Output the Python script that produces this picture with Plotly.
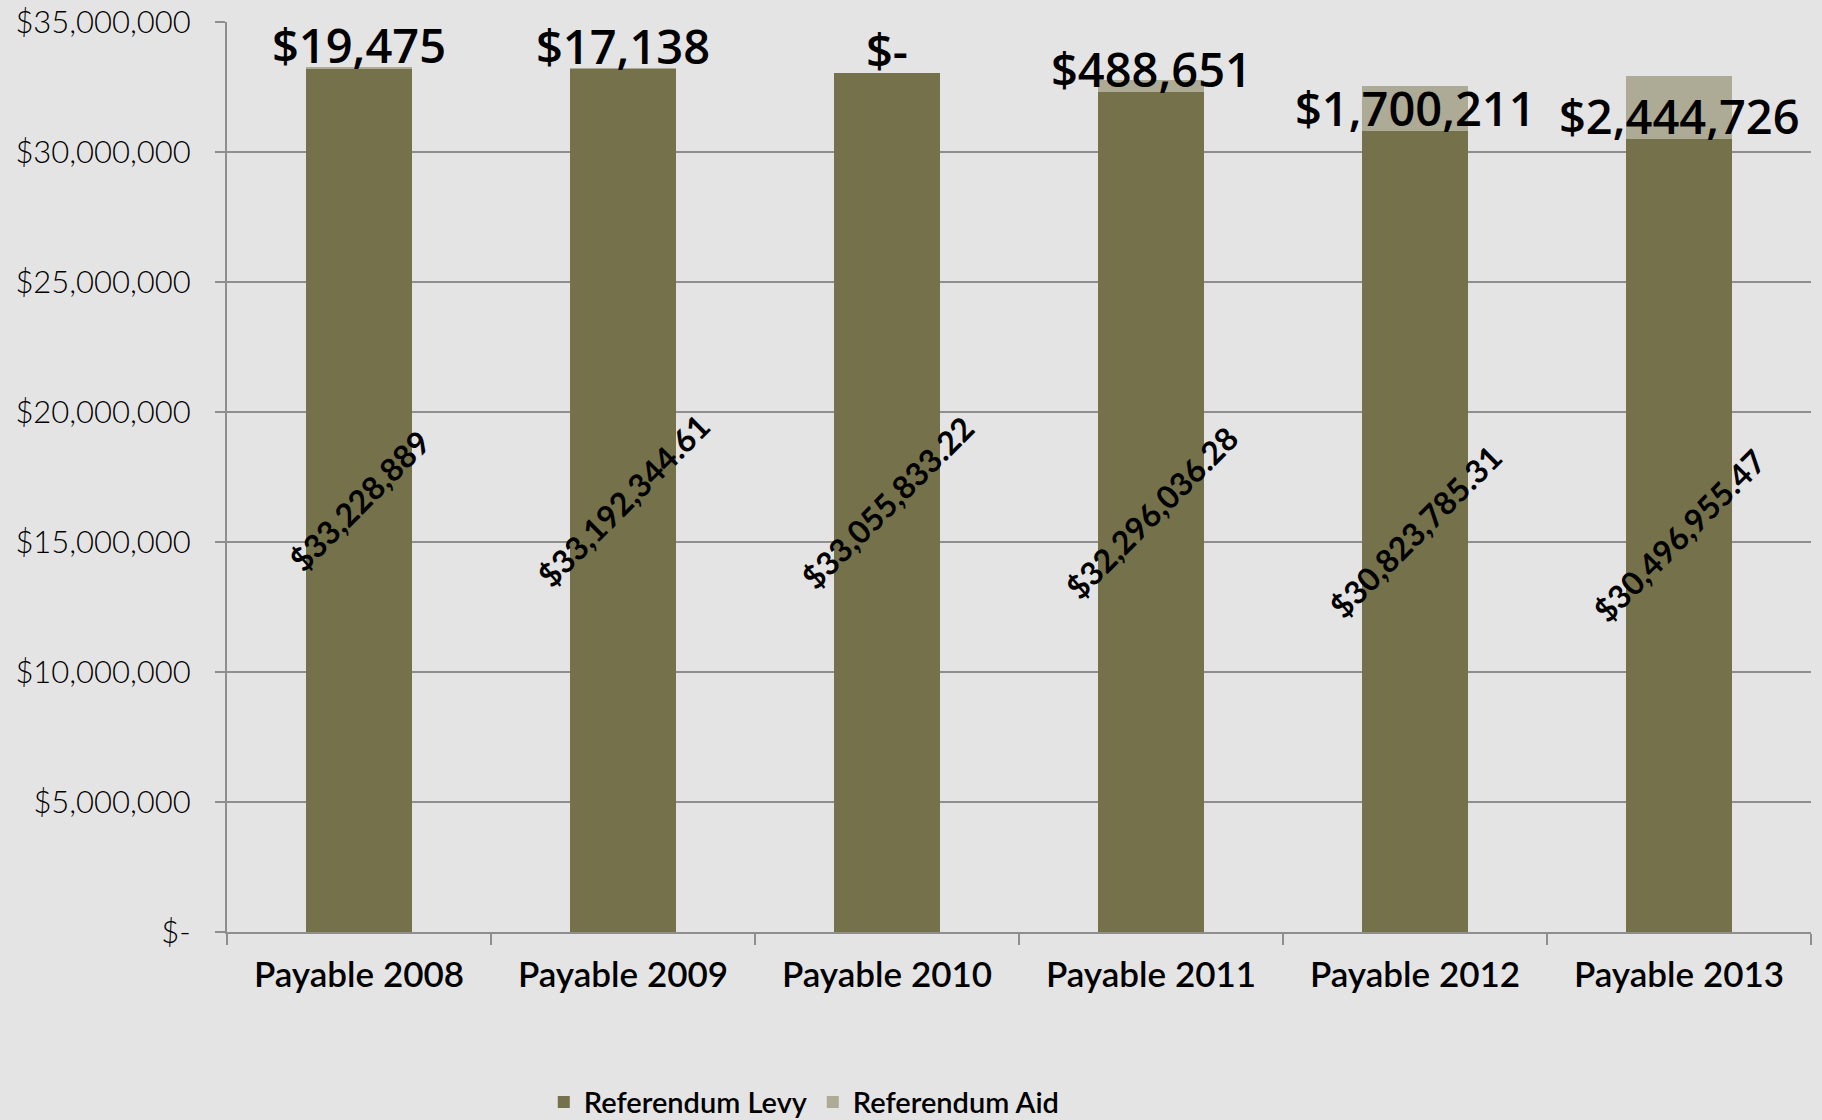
import plotly.graph_objects as go

categories = ["Payable 2008", "Payable 2009", "Payable 2010", "Payable 2011", "Payable 2012", "Payable 2013"]
levy = [33228889, 33192344.61, 33055833.22, 32296036.28, 30823785.31, 30496955.47]
levy_labels = ["$33,228,889", "$33,192,344.61", "$33,055,833.22", "$32,296,036.28", "$30,823,785.31", "$30,496,955.47"]
aid = [19475, 17138, 0, 488651, 1700211, 2444726]
aid_labels = ["$19,475", "$17,138", "$-", "$488,651", "$1,700,211", "$2,444,726"]
y_ticks = [0, 5000000, 10000000, 15000000, 20000000, 25000000, 30000000, 35000000]
y_tick_labels = ["$-" if v == 0 else "${:,.0f}".format(v) for v in y_ticks]

LEVY_COLOR = "#75724B"
AID_COLOR = "#ADAA96"
BG = "#E4E4E4"
GRID = "#8E8E8E"

fig = go.Figure()
fig.add_trace(go.Bar(x=categories, y=levy, name="Referendum Levy",
                     marker=dict(color=LEVY_COLOR, line=dict(width=0))))
fig.add_trace(go.Bar(x=categories, y=aid, name="Referendum Aid",
                     marker=dict(color=AID_COLOR, line=dict(width=0))))

annotations = []
for c, lv, lt in zip(categories, levy, levy_labels):
    annotations.append(dict(x=c, y=lv / 2, text=lt, showarrow=False, textangle=-45,
                            xanchor="center", yanchor="middle",
                            font=dict(family="Lato", size=32, color="#000000", weight="bold")))
for c, lv, at in zip(categories, levy, aid_labels):
    annotations.append(dict(x=c, y=lv, yshift=23, text=at, showarrow=False,
                            xanchor="center", yanchor="middle",
                            font=dict(family="Open Sans", size=47, color="#000000", weight=600)))

fig.update_layout(
    width=1822, height=1120,
    barmode="stack", bargap=0.6,
    paper_bgcolor=BG, plot_bgcolor=BG,
    margin=dict(l=227, r=11, t=22, b=188, autoexpand=False),
    showlegend=True,
    legend=dict(orientation="h", x=0.2, xanchor="left", y=-0.187, yanchor="middle",
                font=dict(family="Lato", size=29, color="#000000", weight=600),
                bgcolor="rgba(0,0,0,0)", itemsizing="constant", traceorder="normal"),
    annotations=annotations,
    xaxis=dict(showline=True, linecolor=GRID, linewidth=2, ticks="outside", tickson="boundaries",
               ticklen=11, tickcolor=GRID, tickwidth=2, showgrid=False, automargin=False,
               ticklabelstandoff=11,
               tickfont=dict(family="Lato", size=35, color="#000000", weight=600)),
    yaxis=dict(range=[0, 35000000], tickvals=y_ticks, ticktext=y_tick_labels,
               showline=True, linecolor=GRID, linewidth=2, ticks="outside", ticklen=10,
               tickcolor=GRID, tickwidth=2, showgrid=True, gridcolor=GRID, gridwidth=2,
               zeroline=False, ticklabelstandoff=18, automargin=False,
               tickfont=dict(family="Lato", size=31, color="#000000", weight=300)),
)

fig.write_html("out.html", config={"displayModeBar": False},
               post_script="document.body.style.margin='0px';document.body.style.overflow='hidden';")
